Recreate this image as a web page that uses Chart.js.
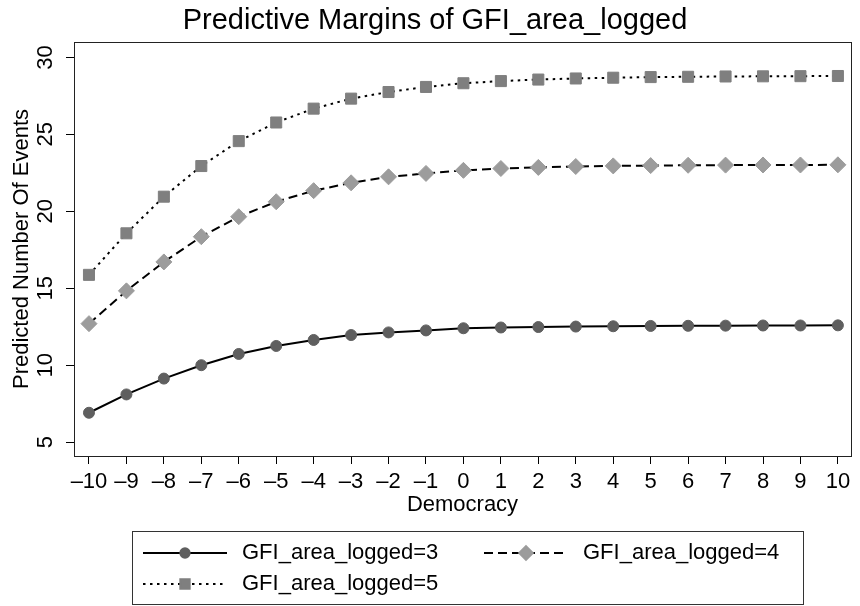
<!DOCTYPE html>
<html>
<head>
<meta charset="utf-8">
<script src="https://cdn.jsdelivr.net/npm/chart.js@4.4.1/dist/chart.umd.min.js"></script>
<style>
  body { margin: 0; background: #fff; }
  #wrap { width: 860px; height: 606px; }
</style>
</head>
<body>
<div id="wrap"><canvas id="marginsChart" width="860" height="606"></canvas></div>
<script>
// values
const democracy = [-10, -9, -8, -7, -6, -5, -4, -3, -2, -1, 0, 1, 2, 3, 4, 5, 6, 7, 8, 9, 10];
const yTickValues = [5, 10, 15, 20, 25, 30];
const seriesNames = ['GFI_area_logged=3', 'GFI_area_logged=4', 'GFI_area_logged=5'];

const gfi3 = [6.91, 8.10, 9.13, 10.00, 10.73, 11.25, 11.64, 11.96, 12.13, 12.26, 12.40,
              12.45, 12.48, 12.51, 12.53, 12.55, 12.56, 12.57, 12.58, 12.58, 12.59];
const gfi4 = [12.70, 14.83, 16.71, 18.35, 19.65, 20.62, 21.34, 21.85, 22.24, 22.46, 22.66,
              22.78, 22.85, 22.91, 22.95, 22.97, 22.99, 23.00, 23.01, 23.01, 23.02];
const gfi5 = [15.87, 18.57, 20.95, 22.94, 24.56, 25.77, 26.67, 27.32, 27.75, 28.08, 28.32,
              28.46, 28.56, 28.63, 28.68, 28.72, 28.74, 28.76, 28.77, 28.78, 28.79];

const FONT = "'Liberation Sans', Arial, Helvetica, sans-serif";

function toPoints(vals) {
  return democracy.map((x, i) => ({ x: x, y: vals[i] }));
}

// full frame round the plot region, like stata
const plotBox = {
  id: 'plotBox',
  afterDatasetsDraw(chart) {
    const a = chart.chartArea;
    const ctx = chart.ctx;
    ctx.save();
    ctx.strokeStyle = '#222';
    ctx.lineWidth = 1;
    ctx.strokeRect(Math.round(a.left) + 0.5, Math.round(a.top) + 0.5,
      Math.round(a.right - a.left), Math.round(a.bottom - a.top));
    ctx.restore();
  }
};

// two-column legend in a framed box
const stataLegend = {
  id: 'stataLegend',
  afterDraw(chart) {
    const ctx = chart.ctx;
    const box = { left: 132, top: 531, right: 803, bottom: 604 };
    const slots = [{ x: 143, y: 553 }, { x: 484, y: 553 }, { x: 143, y: 584 }];
    ctx.save();
    ctx.strokeStyle = '#333';
    ctx.lineWidth = 1;
    ctx.strokeRect(box.left + 0.5, box.top + 0.5, box.right - box.left, box.bottom - box.top);
    chart.data.datasets.forEach((ds, i) => {
      const s = slots[i];
      ctx.beginPath();
      ctx.setLineDash(ds.borderDash || []);
      ctx.lineWidth = ds.borderWidth;
      ctx.strokeStyle = ds.borderColor;
      ctx.moveTo(s.x, s.y);
      ctx.lineTo(s.x + 84, s.y);
      ctx.stroke();
      ctx.setLineDash([]);
      ctx.fillStyle = ds.pointBackgroundColor;
      ctx.strokeStyle = ds.pointBorderColor;
      Chart.helpers.drawPoint(ctx, {
        pointStyle: ds.pointStyle, radius: ds.pointRadius * 0.85,
        borderWidth: ds.pointBorderWidth, rotation: 0
      }, s.x + 42, s.y);
      ctx.fillStyle = '#000';
      ctx.font = '22px ' + FONT;
      ctx.textAlign = 'left';
      ctx.textBaseline = 'middle';
      ctx.fillText(ds.label, s.x + 99, s.y);
    });
    ctx.restore();
  }
};

const config = {
  type: 'line',
  data: {
    datasets: [
      {
        label: seriesNames[0],
        data: toPoints(gfi3),
        borderColor: '#000',
        borderWidth: 2,
        pointStyle: 'circle',
        pointRadius: 5.5,
        pointBackgroundColor: '#5f5f5f',
        pointBorderColor: '#5f5f5f',
        pointBorderWidth: 1
      },
      {
        label: seriesNames[1],
        data: toPoints(gfi4),
        borderColor: '#000',
        borderWidth: 2,
        borderDash: [9, 5],
        pointStyle: 'rectRot',
        pointRadius: 8,
        pointBackgroundColor: '#9c9c9c',
        pointBorderColor: '#9c9c9c',
        pointBorderWidth: 1
      },
      {
        label: seriesNames[2],
        data: toPoints(gfi5),
        borderColor: '#000',
        borderWidth: 2,
        borderDash: [2.5, 4.5],
        pointStyle: 'rect',
        pointRadius: 7.8,
        pointBackgroundColor: '#7f7f7f',
        pointBorderColor: '#7f7f7f',
        pointBorderWidth: 1
      }
    ]
  },
  options: {
    responsive: false,
    animation: false,
    layout: { padding: { left: 11, right: 1, top: 0, bottom: 90 } },
    plugins: {
      legend: { display: false },
      tooltip: { enabled: false },
      title: {
        display: true,
        text: 'Predictive Margins of GFI_area_logged',
        color: '#000',
        font: { family: FONT, size: 29, weight: 'normal', lineHeight: 0.8 },
        padding: { top: 9.5, bottom: 9.3 }
      }
    },
    scales: {
      x: {
        type: 'linear',
        min: -10.4,
        max: 10.35,
        afterBuildTicks: (s) => { s.ticks = democracy.map(v => ({ value: v })); },
        afterFit: (s) => { s.height = 60; },
        border: { display: false },
        grid: { drawOnChartArea: false, drawTicks: true, tickLength: 8, tickColor: '#000', tickWidth: 1 },
        ticks: {
          color: '#000',
          font: { family: FONT, size: 22 },
          padding: 5,
          maxRotation: 0,
          autoSkip: false,
          callback: (v) => v < 0 ? '\u2013' + Math.abs(v) : String(v)
        },
        title: {
          display: true,
          text: 'Democracy',
          color: '#000',
          font: { family: FONT, size: 22, lineHeight: 1 },
          padding: 0
        }
      },
      y: {
        type: 'linear',
        min: 4.1,
        max: 31,
        afterBuildTicks: (s) => { s.ticks = yTickValues.map(v => ({ value: v })); },
        afterFit: (s) => { s.width = 63; },
        border: { display: false },
        grid: { drawOnChartArea: false, drawTicks: true, tickLength: 8, tickColor: '#000', tickWidth: 1 },
        ticks: {
          color: '#000',
          font: { family: FONT, size: 22 },
          minRotation: 90,
          maxRotation: 90,
          crossAlign: 'center',
          padding: 8
        },
        title: {
          display: true,
          text: 'Predicted Number Of Events',
          color: '#000',
          font: { family: FONT, size: 22, lineHeight: 1 },
          padding: 0
        }
      }
    }
  },
  plugins: [plotBox, stataLegend]
};

new Chart(document.getElementById('marginsChart'), config);
</script>
</body>
</html>
